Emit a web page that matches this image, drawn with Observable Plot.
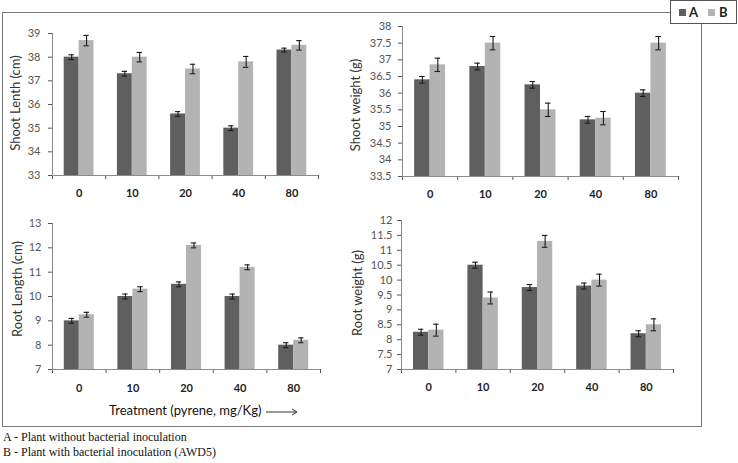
<!DOCTYPE html>
<html><head><meta charset="utf-8">
<script src="https://cdn.jsdelivr.net/npm/d3@7"></script>
<script src="https://cdn.jsdelivr.net/npm/@observablehq/plot@0.6"></script>
<style>
html,body{margin:0;padding:0;background:#fff;}
body{width:738px;height:463px;position:relative;overflow:hidden;font-family:Lato,"Liberation Sans",sans-serif;}
.abs{position:absolute;}
.ylab{position:absolute;white-space:nowrap;font-size:13px;color:#333;transform:translate(-50%,-50%) rotate(-90deg);}
#frame{left:2px;top:12px;width:698px;height:413px;border:1px solid #7a7a7a;}
#legend{left:670px;top:0px;width:65px;height:22px;border:1px solid #555;background:#fff;font-weight:bold;font-size:13px;color:#222;}
.sw{position:absolute;width:7px;height:7px;top:8px;}
.foot{position:absolute;left:3px;font-family:"Liberation Serif","DejaVu Serif",serif;font-size:12px;color:#111;white-space:nowrap;}
</style></head><body>
<div id="frame" class="abs"></div>
<div id="legend" class="abs">
  <div class="sw" style="left:8px;background:#5f5f5f"></div><div class="abs" style="left:18px;top:3px">A</div>
  <div class="sw" style="left:37px;background:#b3b3b3"></div><div class="abs" style="left:48px;top:3px">B</div>
</div>
<div id="p1" class="abs" style="left:0;top:0"></div>
<div id="p2" class="abs" style="left:360px;top:0"></div>
<div id="p3" class="abs" style="left:0;top:205px"></div>
<div id="p4" class="abs" style="left:360px;top:205px"></div>
<div class="ylab" style="left:15px;top:103px">Shoot Lenth (cm)</div>
<div class="ylab" style="left:355px;top:105px">Shoot weight (g)</div>
<div class="ylab" style="left:17px;top:289px">Root Length (cm)</div>
<div class="ylab" style="left:357px;top:293px">Root weight (g)</div>
<div class="abs" style="left:109px;top:402px;font-size:13px;color:#111;white-space:nowrap">Treatment (pyrene, mg/Kg) <svg width="34" height="10" style="vertical-align:middle"><line x1="1" y1="5" x2="31" y2="5" stroke="#333" stroke-width="1"/><path d="M27,2 L32,5 L27,8" fill="none" stroke="#333"/></svg></div>
<div class="foot" style="top:430px">A - Plant without bacterial inoculation</div>
<div class="foot" style="top:445px">B - Plant with bacterial inoculation (AWD5)</div>
<script>
const categories = ["0", "10", "20", "40", "80"];
const series = ["A", "B"];

const shootLengthA = [38.0, 37.3, 35.6, 35.0, 38.3];
const shootLengthErrA = [0.1, 0.1, 0.1, 0.1, 0.08];
const shootLengthB = [38.7, 38.0, 37.5, 37.8, 38.5];
const shootLengthErrB = [0.22, 0.2, 0.2, 0.23, 0.2];
const shootLengthTicks = [33, 34, 35, 36, 37, 38, 39];

const shootWeightA = [36.4, 36.8, 36.25, 35.2, 36.0];
const shootWeightErrA = [0.1, 0.1, 0.1, 0.1, 0.1];
const shootWeightB = [36.85, 37.5, 35.5, 35.25, 37.5];
const shootWeightErrB = [0.2, 0.2, 0.2, 0.2, 0.2];
const shootWeightTicks = [33.5, 34, 34.5, 35, 35.5, 36, 36.5, 37, 37.5, 38];

const rootLengthA = [9.0, 10.0, 10.5, 10.0, 8.0];
const rootLengthErrA = [0.1, 0.1, 0.1, 0.1, 0.1];
const rootLengthB = [9.25, 10.3, 12.1, 11.2, 8.2];
const rootLengthErrB = [0.1, 0.1, 0.1, 0.1, 0.1];
const rootLengthTicks = [7, 8, 9, 10, 11, 12, 13];

const rootWeightA = [8.25, 10.5, 9.75, 9.8, 8.2];
const rootWeightErrA = [0.1, 0.1, 0.1, 0.1, 0.1];
const rootWeightB = [8.32, 9.4, 11.3, 10.0, 8.5];
const rootWeightErrB = [0.2, 0.2, 0.2, 0.2, 0.2];
const rootWeightTicks = [7, 7.5, 8, 8.5, 9, 9.5, 10, 10.5, 11, 11.5, 12];

const colors = ["#5f5f5f", "#b3b3b3"];

function panel(el, {A, errA, B, errB, ticks, width, height, mt, mr, mb, ml, labelDy, pad}) {
  const W = 0.28, cap = 0.05;
  const rows = categories.flatMap((c, i) => [
    {cat: c, i, s: "A", v: A[i], e: errA[i]},
    {cat: c, i, s: "B", v: B[i], e: errB[i]}
  ]);
  const left = d => d.i + 0.5 + (d.s === "A" ? -W : 0);
  const mid = d => d.i + 0.5 + (d.s === "A" ? -W / 2 : W / 2);
  const y0 = ticks[0], y1 = ticks[ticks.length - 1];
  const chart = Plot.plot({
    width, height,
    marginTop: mt, marginRight: mr, marginBottom: mb, marginLeft: ml,
    style: {fontFamily: "Lato, 'Liberation Sans', sans-serif", fontSize: "11px", color: "#555", background: "transparent", overflow: "visible"},
    x: {domain: [0, 5], ticks: [0, 1, 2, 3, 4, 5], tickFormat: () => "", tickSize: 4, label: null},
    y: {domain: [y0, y1], ticks, tickFormat: d => String(d), tickSize: 4, tickPadding: pad, label: null},
    color: {domain: series, range: colors},
    marks: [
      Plot.rect(rows, {x1: left, x2: d => left(d) + W, y1: y0, y2: "v", fill: "s"}),
      Plot.ruleX(rows, {x: mid, y1: d => d.v - d.e, y2: d => d.v + d.e, stroke: "#1a1a1a", strokeWidth: 1.1}),
      Plot.ruleY(rows, {x1: d => mid(d) - cap, x2: d => mid(d) + cap, y: d => d.v + d.e, stroke: "#1a1a1a", strokeWidth: 1.1}),
      Plot.ruleY(rows, {x1: d => mid(d) - cap, x2: d => mid(d) + cap, y: d => d.v - d.e, stroke: "#1a1a1a", strokeWidth: 1.1}),
      Plot.ruleY([y0], {stroke: "#8a8a8a"}),
      Plot.ruleX([0], {stroke: "#8a8a8a"}),
      Plot.text(categories, {x: (d, i) => i + 0.5, y: y0, dy: labelDy, text: d => d, fontWeight: "bold", fill: "#222", fontSize: 11})
    ]
  });
  document.getElementById(el).appendChild(chart);
}

panel("p1", {A: shootLengthA, errA: shootLengthErrA, B: shootLengthB, errB: shootLengthErrB, ticks: shootLengthTicks,
  width: 360, height: 205, mt: 33, mr: 42, mb: 30, ml: 52, labelDy: 18, pad: 8});
panel("p2", {A: shootWeightA, errA: shootWeightErrA, B: shootWeightB, errB: shootWeightErrB, ticks: shootWeightTicks,
  width: 340, height: 205, mt: 26, mr: 22, mb: 29, ml: 42, labelDy: 18, pad: 7});
panel("p3", {A: rootLengthA, errA: rootLengthErrA, B: rootLengthB, errB: rootLengthErrB, ticks: rootLengthTicks,
  width: 360, height: 205, mt: 18, mr: 40, mb: 41, ml: 52, labelDy: 19, pad: 7});
panel("p4", {A: rootWeightA, errA: rootWeightErrA, B: rootWeightB, errB: rootWeightErrB, ticks: rootWeightTicks,
  width: 340, height: 205, mt: 15, mr: 27, mb: 41, ml: 41, labelDy: 18, pad: 5});
</script>
</body></html>
